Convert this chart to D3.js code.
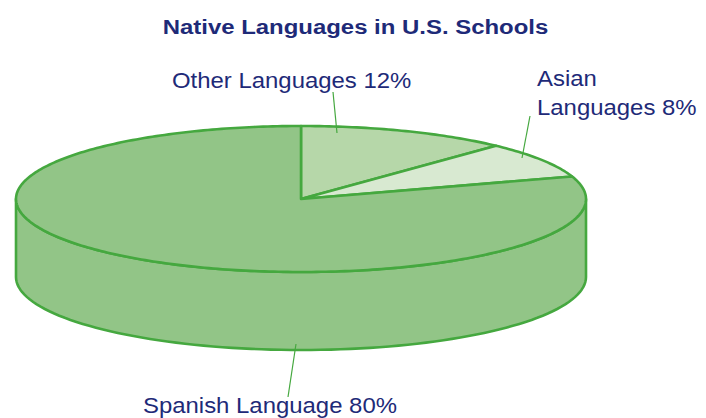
<!DOCTYPE html>
<html><head><meta charset="utf-8">
<script src="https://cdn.jsdelivr.net/npm/d3@7"></script>
<style>body{margin:0;background:#fff}svg{display:block}text{font-family:"Liberation Sans",Arial,Helvetica,sans-serif}</style>
</head><body>
<svg id="c" width="706" height="418"></svg>
<script>
const categories = ["Other Languages", "Asian Languages", "Spanish Language"];
const values = [12, 8, 80];
const labelLines = [["Other Languages 12%"], ["Asian", "Languages 8%"], ["Spanish Language 80%"]];
const title = "Native Languages in U.S. Schools";

const W = 706, H = 418;
const cx = 301, cy = 199, rx = 285, ry = 73, depth = 78;
const fills = ["#b6d7a9", "#d8e9d1", "#92c587"];
const stroke = "#45a83f";
const navy = "#1e2a78";

const svg = d3.select("#c");
svg.append("g").attr("transform", "translate(355.5,34) scale(1.14,1)")
  .append("text").attr("x", 0).attr("y", 0).attr("text-anchor", "middle")
  .attr("font-weight", "bold").attr("font-size", 21).attr("fill", navy).text(title);

const pie = d3.pie().sort(null).value(d => d)(values);
const pt = (a, dy = 0) => [cx + rx * Math.sin(a), cy - ry * Math.cos(a) + dy];
const line = d3.line();

// side wall (front half)
const sidePts = [];
for (let i = 0; i <= 90; i++) sidePts.push(pt(Math.PI / 2 + Math.PI * i / 90));
for (let i = 90; i >= 0; i--) sidePts.push(pt(Math.PI / 2 + Math.PI * i / 90, depth));
svg.append("path").attr("d", line(sidePts) + "Z").attr("fill", fills[2])
  .attr("stroke", stroke).attr("stroke-width", 2.6).attr("stroke-linejoin", "round");

// top slices
pie.forEach((s, i) => {
  const n = Math.max(4, Math.ceil((s.endAngle - s.startAngle) * 60));
  const pts = [[cx, cy]];
  for (let k = 0; k <= n; k++) pts.push(pt(s.startAngle + (s.endAngle - s.startAngle) * k / n));
  svg.append("path").attr("d", line(pts) + "Z").attr("fill", fills[i])
    .attr("stroke", stroke).attr("stroke-width", 2.6).attr("stroke-linejoin", "round");
});

// leader lines
const leaders = [[[333, 92], [337, 133]], [[530, 116], [522, 158]], [[296, 344], [288, 397]]];
leaders.forEach(l => svg.append("path").attr("d", line(l)).attr("stroke", stroke).attr("stroke-width", 1.2).attr("fill", "none"));

// labels
const labelPos = [[172, 88, 29], [537, 86, 29], [143, 413, 29]];
labelLines.forEach((lines, i) => {
  const g = svg.append("g").attr("transform", `translate(${labelPos[i][0]},${labelPos[i][1]}) scale(1.088,1)`);
  const t = g.append("text").attr("x", 0).attr("y", 0).attr("font-size", 22).attr("fill", navy);
  lines.forEach((ln, j) => t.append("tspan").attr("x", 0).attr("dy", j ? labelPos[i][2] : 0).text(ln));
});
</script>
</body></html>
